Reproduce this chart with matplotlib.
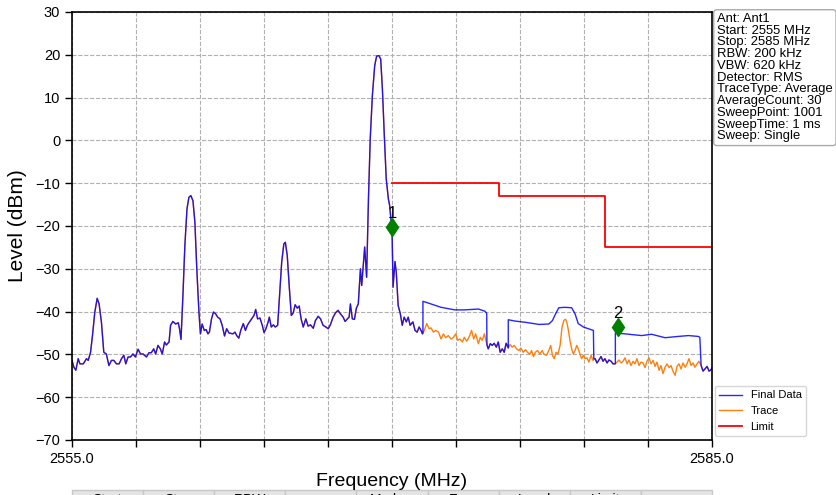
import numpy as np
import matplotlib
matplotlib.use("Agg")
import matplotlib.pyplot as plt
import matplotlib.ticker as ticker

plt.rcParams['font.family'] = ['Liberation Sans', 'DejaVu Sans']

# Trace (MHz, dBm)
trace_freq = [
    2555.00, 2555.09, 2555.18, 2555.29, 2555.37, 2555.53, 2555.68, 2555.76, 2555.87, 2555.96,
    2556.07, 2556.18, 2556.27, 2556.38, 2556.49, 2556.61, 2556.73, 2556.85, 2556.96, 2557.08,
    2557.21, 2557.32, 2557.43, 2557.52, 2557.63, 2557.74, 2557.86, 2557.97, 2558.10, 2558.21,
    2558.33, 2558.49, 2558.61, 2558.72, 2558.83, 2558.92, 2559.03, 2559.14, 2559.23, 2559.34,
    2559.42, 2559.55, 2559.62, 2559.73, 2559.86, 2559.98, 2560.04, 2560.11, 2560.20, 2560.29,
    2560.39, 2560.48, 2560.57, 2560.67, 2560.76, 2560.85, 2560.95, 2561.02, 2561.10, 2561.20,
    2561.29, 2561.37, 2561.44, 2561.54, 2561.63, 2561.73, 2561.83, 2561.94, 2562.04, 2562.15,
    2562.25, 2562.36, 2562.54, 2562.64, 2562.72, 2562.82, 2562.91, 2563.03, 2563.13, 2563.22,
    2563.31, 2563.42, 2563.53, 2563.61, 2563.70, 2563.81, 2563.92, 2564.00, 2564.09, 2564.19,
    2564.25, 2564.34, 2564.44, 2564.53, 2564.64, 2564.72, 2564.83, 2564.93, 2565.00, 2565.09,
    2565.18, 2565.28, 2565.37, 2565.46, 2565.56, 2565.65, 2565.74, 2565.84, 2565.96, 2566.07,
    2566.18, 2566.31, 2566.41, 2566.54, 2566.65, 2566.77, 2566.90, 2567.01, 2567.11, 2567.24,
    2567.35, 2567.47, 2567.58, 2567.71, 2567.80, 2567.89, 2567.99, 2568.05, 2568.14, 2568.24,
    2568.33, 2568.42, 2568.52, 2568.58, 2568.64, 2568.72, 2568.81, 2568.90, 2568.98, 2569.08,
    2569.19, 2569.28, 2569.39, 2569.47, 2569.55, 2569.64, 2569.73, 2569.83, 2569.89, 2569.95,
    2570.00, 2570.05, 2570.14, 2570.20, 2570.29, 2570.39, 2570.48, 2570.57, 2570.67, 2570.76,
    2570.85, 2570.98, 2571.08, 2571.18, 2571.27, 2571.36, 2571.43, 2571.52, 2571.63, 2571.74,
    2571.83, 2571.94, 2572.05, 2572.18, 2572.30, 2572.41, 2572.52, 2572.64, 2572.77, 2572.88,
    2572.99, 2573.08, 2573.19, 2573.30, 2573.39, 2573.50, 2573.61, 2573.73, 2573.83, 2573.92,
    2574.05, 2574.14, 2574.23, 2574.33, 2574.42, 2574.51, 2574.61, 2574.70, 2574.79, 2574.89,
    2574.98, 2575.07, 2575.17, 2575.26, 2575.35, 2575.45, 2575.54, 2575.63, 2575.73, 2575.84,
    2575.95, 2576.04, 2576.15, 2576.26, 2576.35, 2576.46, 2576.54, 2576.63, 2576.72, 2576.82,
    2576.93, 2577.04, 2577.13, 2577.24, 2577.35, 2577.44, 2577.52, 2577.60, 2577.69, 2577.78,
    2577.88, 2577.97, 2578.06, 2578.14, 2578.20, 2578.27, 2578.34, 2578.42, 2578.50, 2578.58,
    2578.66, 2578.73, 2578.81, 2578.89, 2578.97, 2579.05, 2579.14, 2579.23, 2579.33, 2579.42,
    2579.52, 2579.61, 2579.70, 2579.80, 2579.89, 2579.98, 2580.08, 2580.17, 2580.27, 2580.36,
    2580.45, 2580.55, 2580.64, 2580.74, 2580.83, 2580.92, 2581.02, 2581.11, 2581.20, 2581.30,
    2581.39, 2581.48, 2581.58, 2581.67, 2581.77, 2581.86, 2581.95, 2582.05, 2582.14, 2582.24,
    2582.33, 2582.42, 2582.52, 2582.61, 2582.70, 2582.80, 2582.89, 2582.99, 2583.08, 2583.17,
    2583.27, 2583.36, 2583.45, 2583.55, 2583.64, 2583.74, 2583.83, 2583.92, 2584.02, 2584.11,
    2584.20, 2584.30, 2584.39, 2584.49, 2584.58, 2584.67, 2584.77, 2584.86, 2584.95, 2585.00,
]
trace_level = [
    -51.4, -53.0, -53.7, -51.0, -52.2, -52.2, -51.0, -51.4, -49.5, -45.6,
    -40.1, -36.9, -38.2, -42.5, -49.5, -49.9, -52.6, -51.4, -51.4, -52.2,
    -52.2, -51.0, -50.2, -52.2, -50.6, -50.6, -49.9, -50.6, -48.8, -49.9,
    -49.9, -50.6, -49.6, -49.6, -48.7, -49.9, -47.9, -48.7, -49.9, -47.1,
    -47.8, -47.1, -43.2, -42.3, -42.9, -42.6, -44.0, -46.5, -36.2, -24.6,
    -16.0, -13.3, -12.9, -14.1, -19.1, -30.0, -40.1, -45.2, -42.9, -44.4,
    -44.2, -45.2, -44.8, -41.7, -40.1, -40.5, -41.3, -41.7, -43.2, -45.7,
    -44.0, -45.0, -45.2, -44.8, -45.6, -46.2, -44.4, -42.8, -44.4, -43.2,
    -42.5, -41.7, -40.9, -39.5, -41.7, -41.5, -43.2, -44.9, -44.0, -42.5,
    -41.3, -43.6, -43.1, -43.6, -43.2, -37.0, -28.4, -24.2, -23.8, -26.9,
    -33.9, -40.9, -40.3, -38.4, -39.2, -38.7, -41.7, -43.6, -41.7, -43.4,
    -43.1, -43.9, -42.1, -41.1, -41.7, -43.2, -43.6, -44.0, -43.1, -41.3,
    -40.3, -39.7, -40.5, -41.3, -42.3, -41.8, -41.3, -38.2, -41.7, -41.8,
    -39.2, -38.2, -30.0, -33.9, -30.0, -24.9, -32.0, -13.0, 0.4, 10.5,
    17.5, 19.7, 19.8, 19.0, 12.0, 1.1, -9.0, -13.7, -15.2, -18.5,
    -20.3, -34.3, -28.3, -30.8, -38.6, -40.5, -43.2, -41.3, -42.4, -41.3,
    -43.2, -42.4, -44.4, -44.8, -43.6, -44.4, -45.2, -44.3, -42.8, -44.0,
    -43.8, -44.8, -44.4, -44.8, -46.4, -45.2, -46.1, -45.6, -46.4, -46.0,
    -45.2, -46.7, -46.4, -47.1, -46.0, -46.9, -46.0, -44.4, -46.4, -45.2,
    -47.5, -46.0, -46.7, -45.2, -47.1, -48.7, -47.5, -47.9, -47.4, -48.3,
    -47.1, -49.5, -48.7, -49.5, -47.4, -48.5, -47.7, -48.3, -47.9, -48.7,
    -49.1, -48.5, -49.5, -48.9, -49.5, -50.0, -49.1, -50.5, -49.5, -49.1,
    -49.9, -49.1, -50.0, -50.2, -49.1, -47.9, -50.2, -51.0, -49.5, -49.9,
    -47.9, -43.6, -42.0, -41.8, -42.6, -44.4, -46.7, -48.7, -49.9, -49.1,
    -47.9, -48.7, -49.9, -51.0, -50.2, -51.0, -50.8, -51.8, -50.2, -51.4,
    -51.0, -52.0, -51.3, -50.5, -51.6, -51.0, -52.0, -51.3, -51.6, -52.2,
    -52.2, -51.8, -51.3, -52.0, -51.6, -50.8, -52.2, -51.3, -52.6, -51.6,
    -52.2, -51.0, -52.6, -51.8, -52.0, -53.1, -51.6, -50.8, -52.2, -51.4,
    -52.8, -51.8, -53.7, -52.6, -54.5, -53.0, -52.2, -53.1, -52.6, -53.9,
    -54.9, -52.8, -52.2, -53.4, -52.0, -53.0, -52.2, -51.0, -52.6, -52.0,
    -53.0, -52.2, -51.6, -52.6, -53.9, -53.4, -52.8, -53.9, -53.6, -53.2,
]

# Final Data: raised blocks where it differs from the trace
seg_a_freq = [2571.45, 2571.45, 2571.70, 2572.30, 2572.95, 2573.40, 2574.05, 2574.35, 2574.44, 2574.45]
seg_a_level = [-45.0, -37.6, -38.0, -39.0, -39.6, -39.6, -39.4, -39.9, -40.4, -47.8]
seg_b_freq = [2575.45, 2575.45, 2575.75, 2576.25, 2576.90, 2577.35, 2577.52, 2577.67, 2577.82,
              2578.10, 2578.42, 2578.58, 2578.73, 2578.97, 2579.20, 2579.44, 2579.46]
seg_b_level = [-48.5, -41.9, -42.2, -42.5, -43.0, -42.9, -42.1, -40.5, -39.1,
               -39.0, -39.1, -40.5, -42.8, -43.6, -44.0, -44.4, -51.0]
seg_c_freq = [2580.47, 2580.47, 2580.92, 2581.70, 2582.17, 2582.80, 2583.42, 2583.90, 2584.35, 2584.43, 2584.49]
seg_c_level = [-52.2, -45.0, -45.2, -45.6, -45.3, -46.1, -45.8, -45.6, -45.8, -46.0, -52.6]

limit_freq = [2570, 2575, 2575, 2580, 2580, 2585]
limit_level = [-10, -10, -13, -13, -25, -25]

marker_freq = [2570.0, 2580.6]
marker_level = [-20.3, -43.6]
marker_names = ["1", "2"]

info = ["Ant: Ant1", "Start: 2555 MHz", "Stop: 2585 MHz", "RBW: 200 kHz", "VBW: 620 kHz",
        "Detector: RMS", "TraceType: Average", "AverageCount: 30", "SweepPoint: 1001",
        "SweepTime: 1 ms", "Sweep: Single"]
table_headers = ["Start", "Stop", "RBW", "", "Marker", "Freq", "Level", "Limit", ""]

# Final Data zusammensetzen
tf = np.array(trace_freq)
tl = np.array(trace_level)
segs = [(seg_a_freq, seg_a_level), (seg_b_freq, seg_b_level), (seg_c_freq, seg_c_level)]
final_f, final_l = [], []
lo = -np.inf
for sf, sl in segs:
    m = (tf > lo) & (tf < sf[0])
    final_f += list(tf[m]) + sf
    final_l += list(tl[m]) + sl
    lo = sf[-1]
m = tf > lo
final_f += list(tf[m])
final_l += list(tl[m])

fig = plt.figure(figsize=(8.37, 4.95), dpi=100)
ax = fig.add_axes([72 / 837, 55 / 495, 640 / 837, 428 / 495])

l_trace, = ax.plot(tf, tl, color="#ff7f0e", linewidth=1.0, label="Trace")
l_final, = ax.plot(final_f, final_l, color="blue", alpha=0.85, linewidth=1.0, label="Final Data")
l_limit, = ax.plot(limit_freq, limit_level, color="red", linewidth=1.3, label="Limit")

ax.plot(marker_freq, marker_level, linestyle="none", marker="d", markersize=9.5, color="green")
for f, lv, name in zip(marker_freq, marker_level, marker_names):
    ax.annotate(name, (f, lv), xytext=(0, 4.5), textcoords="offset points",
                ha="center", va="bottom", fontsize=12)

ax.set_xlim(2555, 2585)
ax.set_ylim(-70, 30)
ax.xaxis.set_major_locator(ticker.FixedLocator(np.arange(2555, 2586, 3)))
ax.xaxis.set_major_formatter(ticker.FixedFormatter(["2555.0"] + [""] * 9 + ["2585.0"]))
ax.yaxis.set_major_locator(ticker.MultipleLocator(10))
ax.tick_params(labelsize=10.5, length=5, width=1)
ax.grid(True, linestyle="--", color="#b0b0b0", linewidth=0.8)
for sp in ax.spines.values():
    sp.set_linewidth(1.2)

ax.set_xlabel("Frequency (MHz)", fontsize=14, labelpad=5)
ax.set_ylabel("Level (dBm)", fontsize=15, labelpad=6)

fig.text(717 / 837, 1 - 13 / 495, "\n".join(info), ha="left", va="top", fontsize=9.4,
         linespacing=0.97,
         bbox=dict(boxstyle="round,pad=0.25", facecolor="white", edgecolor="#aaaaaa"))

fig.legend(handles=[l_final, l_trace, l_limit], loc="upper left",
           bbox_to_anchor=(715 / 837, 1 - 386 / 495), fontsize=8,
           frameon=True, edgecolor="#cccccc", borderaxespad=0)

tab = ax.table(cellText=[table_headers], cellLoc="center", bbox=[0, -0.166, 1, 0.05])
tab.auto_set_font_size(False)
tab.set_fontsize(10)
for cell in tab.get_celld().values():
    cell.set_facecolor("#e4e4e4")
    cell.set_edgecolor("#c8c8c8")

plt.savefig("out.png", dpi=100)
